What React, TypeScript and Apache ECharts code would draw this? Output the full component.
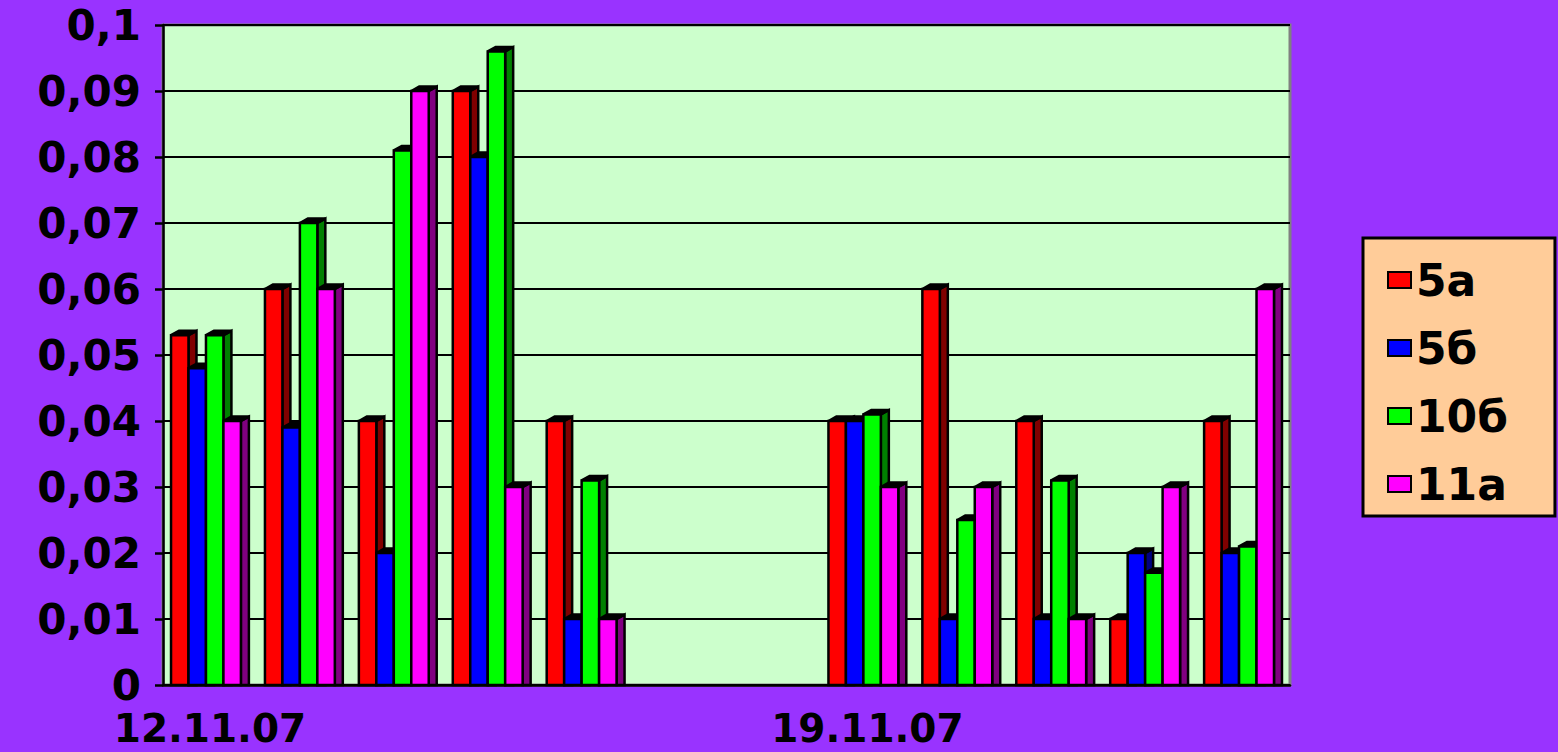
import React, { useEffect, useRef } from "react";
import * as echarts from "echarts";

const categories = [
  "12.11.07", "13.11.07", "14.11.07", "15.11.07", "16.11.07", "17.11.07",
  "18.11.07", "19.11.07", "20.11.07", "21.11.07", "22.11.07", "23.11.07",
];
const seriesNames = ["5а", "5б", "10б", "11а"];
const s5a = [0.053, 0.06, 0.04, 0.09, 0.04, null, null, 0.04, 0.06, 0.04, 0.01, 0.04];
const s5b = [0.048, 0.039, 0.02, 0.08, 0.01, null, null, 0.04, 0.01, 0.01, 0.02, 0.02];
const s10b = [0.053, 0.07, 0.081, 0.096, 0.031, null, null, 0.041, 0.025, 0.031, 0.017, 0.021];
const s11a = [0.04, 0.06, 0.09, 0.03, 0.01, null, null, 0.03, 0.03, 0.01, 0.03, 0.06];
const seriesValues = [s5a, s5b, s10b, s11a];
const frontColors = ["#FF0000", "#0000FF", "#00FF00", "#FF00FF"];
const sideColors = ["#800000", "#000080", "#008000", "#800080"];

const FONT = "DejaVu Sans";

export default function App() {
  const ref = useRef<HTMLDivElement>(null);
  useEffect(() => {
    document.body.style.margin = "0";
    const chart = echarts.init(ref.current!, null, { renderer: "svg" });
    const series = seriesValues.map((vals, s) => ({
      type: "custom",
      name: seriesNames[s],
      data: vals.map((v, i) => [i, v == null ? "-" : v]),
      encode: { x: 0, y: 1 },
      itemStyle: { color: frontColors[s], borderColor: "#000", borderWidth: 2 },
      renderItem: (params: any, api: any) => {
        const cat = api.value(0);
        const v = api.value(1);
        if (v == null || isNaN(v)) return null;
        const top = api.coord([cat, v]);
        const base = api.coord([cat, 0]);
        const band = api.size([1, 0])[0];
        const step = band * 0.186;
        const depth = band * 0.085;
        const dy = depth * 0.55;
        const groupLeft = top[0] - (4 * step + depth) / 2;
        const x0 = groupLeft + s * step;
        const yT = top[1];
        const yB = base[1];
        const stroke = { stroke: "#000", lineWidth: 2.5 };
        return {
          type: "group",
          children: [
            {
              type: "polygon",
              shape: { points: [[x0 + step, yT], [x0 + step + depth, yT - dy], [x0 + step + depth, yB], [x0 + step, yB]] },
              style: { fill: sideColors[s], ...stroke },
            },
            {
              type: "polygon",
              shape: { points: [[x0, yT], [x0 + depth, yT - dy], [x0 + step + depth, yT - dy], [x0 + step, yT]] },
              style: { fill: "#000", ...stroke },
            },
            {
              type: "rect",
              shape: { x: x0, y: yT, width: step, height: yB - yT },
              style: { fill: frontColors[s], ...stroke },
            },
          ],
        };
      },
    }));
    chart.setOption({
      animation: false,
      backgroundColor: "#9933FF",
      textStyle: { fontFamily: FONT },
      grid: {
        left: 163, right: 268, top: 25, bottom: 67,
        show: true, backgroundColor: "#CCFFCC", borderColor: "#808080", borderWidth: 3,
      },
      legend: {
        orient: "vertical",
        left: 1363, top: 238,
        backgroundColor: "#FFCC99",
        borderColor: "#000", borderWidth: 3,
        padding: [17, 47, 7, 24],
        itemWidth: 23, itemHeight: 16, itemGap: 18,
        icon: "rect",
        textStyle: { fontFamily: FONT, fontWeight: "bold", fontSize: 44, color: "#000", lineHeight: 50, padding: [0, 0, 0, 0] },
        data: seriesNames,
      },
      xAxis: {
        type: "category",
        data: categories,
        boundaryGap: true,
        axisLine: { lineStyle: { color: "#000", width: 2.5 } },
        axisTick: { interval: 6, length: 8, lineStyle: { color: "#000", width: 2.5 } },
        axisLabel: { interval: 6, margin: 24, lineHeight: 39, color: "#000", fontSize: 39, fontWeight: "bold", fontFamily: FONT },
        splitLine: { show: false },
      },
      yAxis: {
        type: "value",
        min: 0, max: 0.1, interval: 0.01,
        axisLine: { show: true, lineStyle: { color: "#000", width: 2.5 } },
        axisTick: { show: true, length: 8, lineStyle: { color: "#000", width: 2.5 } },
        axisLabel: {
          margin: 22, color: "#000", fontSize: 42, fontWeight: "bold", fontFamily: FONT, lineHeight: 40,
          formatter: (v: number) => String(+v.toFixed(2)).replace(".", ","),
        },
        splitLine: { show: true, lineStyle: { color: "#000", width: 2 } },
      },
      series,
    });
    return () => chart.dispose();
  }, []);
  return <div ref={ref} style={{ width: 1558, height: 752 }} />;
}
